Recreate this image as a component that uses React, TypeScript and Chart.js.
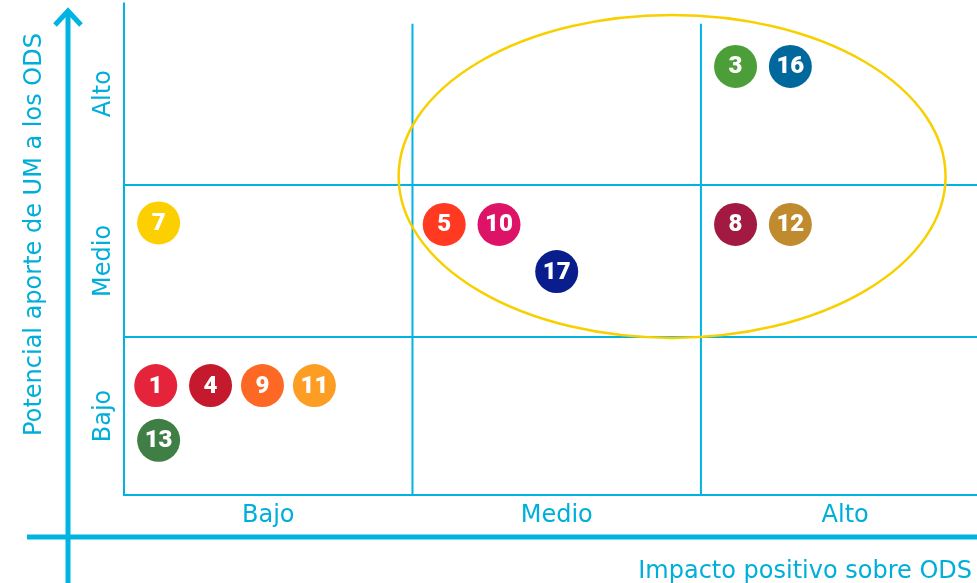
import React, { useEffect, useRef } from "react";
import { Chart, registerables } from "chart.js";

Chart.register(...registerables);

// SDG numbers shown in each bubble
const sdgLabels = ["1", "4", "9", "11", "13", "7", "5", "10", "17", "3", "16", "8", "12"];
// Impacto positivo sobre ODS (0-1 Bajo, 1-2 Medio, 2-3 Alto)
const impactValues = [0.11, 0.3, 0.48, 0.66, 0.12, 0.12, 1.11, 1.3, 1.5, 2.12, 2.31, 2.12, 2.31];
// Potencial aporte de UM a los ODS (0-1 Bajo, 1-2 Medio, 2-3 Alto)
const potentialValues = [0.68, 0.68, 0.68, 0.68, 0.32, 1.75, 1.74, 1.74, 1.43, 2.78, 2.78, 1.74, 1.74];
const sdgColors = [
  "#E5243B", "#C5192D", "#FD6925", "#FD9D24", "#3F7E44", "#FCD000",
  "#FF3A21", "#DD1367", "#0A1D8C", "#4C9F38", "#00689D", "#A21942", "#BF8B2E",
];
const xLevelLabels = ["Bajo", "Medio", "Alto"];
const yLevelLabels = ["Bajo", "Medio", "Alto"];
const gridBoundaries = [1, 2];
const xAxisTitle = "Impacto positivo sobre ODS";
const yAxisTitle = "Potencial aporte de UM a los ODS";
// highlighted ellipse (center and radii in axis units)
const ellipseCenter = [1.9, 2.056];
const ellipseRadii = [0.948, 1.0625];

const LINE = "#00B4E1";
const TEXT = "#00AEDA";
const FONT = "'DejaVu Sans', sans-serif";
const NUM_FONT = "Roboto, 'Noto Sans', sans-serif";

const matrixPlugin = {
  id: "matrixPlugin",
  beforeDatasetsDraw(chart: any) {
    const { ctx, chartArea, scales } = chart;
    const xs = scales.x;
    const ys = scales.y;
    ctx.save();
    ctx.strokeStyle = LINE;
    ctx.lineWidth = 2;
    // left border and bottom border
    ctx.beginPath();
    ctx.moveTo(xs.getPixelForValue(0), ys.getPixelForValue(3.2));
    ctx.lineTo(xs.getPixelForValue(0), chartArea.bottom);
    ctx.lineTo(chartArea.right, chartArea.bottom);
    ctx.stroke();
    // vertical cell boundaries
    gridBoundaries.forEach((v) => {
      const x = xs.getPixelForValue(v);
      ctx.beginPath();
      ctx.moveTo(x, ys.getPixelForValue(3.06));
      ctx.lineTo(x, chartArea.bottom);
      ctx.stroke();
    });
    // horizontal cell boundaries
    gridBoundaries.forEach((v) => {
      const y = ys.getPixelForValue(v);
      ctx.beginPath();
      ctx.moveTo(chartArea.left, y);
      ctx.lineTo(chartArea.right, y);
      ctx.stroke();
    });
    // ellipse
    const cx = xs.getPixelForValue(ellipseCenter[0]);
    const cy = ys.getPixelForValue(ellipseCenter[1]);
    const rx = Math.abs(xs.getPixelForValue(ellipseCenter[0] + ellipseRadii[0]) - cx);
    const ry = Math.abs(ys.getPixelForValue(ellipseCenter[1] + ellipseRadii[1]) - cy);
    ctx.strokeStyle = "#F8D000";
    ctx.lineWidth = 2.5;
    ctx.beginPath();
    ctx.ellipse(cx, cy, rx, ry, 0, 0, Math.PI * 2);
    ctx.stroke();
    ctx.restore();
  },
  afterDatasetsDraw(chart: any) {
    const { ctx } = chart;
    const meta = chart.getDatasetMeta(0);
    ctx.save();
    ctx.fillStyle = "#FFFFFF";
    ctx.font = `900 24px ${NUM_FONT}`;
    ctx.textAlign = "center";
    ctx.textBaseline = "middle";
    meta.data.forEach((pt: any, i: number) => {
      ctx.fillText(sdgLabels[i], pt.x, pt.y + 1);
    });
    ctx.restore();
  },
  afterDraw(chart: any) {
    const { ctx, chartArea, scales, width, height } = chart;
    const xs = scales.x;
    const ys = scales.y;
    ctx.save();
    ctx.fillStyle = TEXT;
    ctx.font = `24px ${FONT}`;
    ctx.textAlign = "center";
    ctx.textBaseline = "alphabetic";
    // x level labels
    xLevelLabels.forEach((lab, i) => {
      ctx.fillText(lab, xs.getPixelForValue(i + 0.5), chartArea.bottom + 27);
    });
    // y level labels (rotated)
    const yEdges = [ys.getPixelForValue(ys.min), ys.getPixelForValue(1), ys.getPixelForValue(2), ys.getPixelForValue(3.2)];
    yLevelLabels.forEach((lab, i) => {
      const cy = (yEdges[i] + yEdges[i + 1]) / 2;
      ctx.save();
      ctx.translate(chartArea.left - 14.5, cy);
      ctx.rotate(-Math.PI / 2);
      ctx.fillText(lab, 0, 0);
      ctx.restore();
    });
    // axis arrows
    const ax = chartArea.left - 56;
    const ay = chartArea.bottom + 42;
    ctx.strokeStyle = LINE;
    ctx.lineWidth = 5;
    ctx.beginPath();
    ctx.moveTo(ax, height);
    ctx.lineTo(ax, 12);
    ctx.stroke();
    ctx.beginPath();
    ctx.moveTo(ax - 13, 25);
    ctx.lineTo(ax, 11);
    ctx.lineTo(ax + 13, 25);
    ctx.stroke();
    ctx.beginPath();
    ctx.moveTo(ax - 41, ay);
    ctx.lineTo(width, ay);
    ctx.stroke();
    // axis titles
    ctx.textAlign = "right";
    ctx.fillText(xAxisTitle, width - 5, ay + 41);
    ctx.save();
    ctx.translate(41, (chartArea.top + chartArea.bottom) / 2 - 13);
    ctx.rotate(-Math.PI / 2);
    ctx.textAlign = "center";
    ctx.fillText(yAxisTitle, 0, 0);
    ctx.restore();
    ctx.restore();
  },
};

export default function App() {
  const canvasRef = useRef<HTMLCanvasElement | null>(null);

  useEffect(() => {
    document.body.style.margin = "0";
    const canvas = canvasRef.current;
    if (!canvas) return;
    const chart = new Chart(canvas, {
      type: "scatter",
      data: {
        datasets: [
          {
            data: impactValues.map((x, i) => ({ x, y: potentialValues[i] })),
            backgroundColor: sdgColors,
            borderWidth: 0,
            pointRadius: 21.5,
            pointHoverRadius: 21.5,
          },
        ],
      },
      options: {
        animation: false,
        responsive: false,
        events: [],
        layout: { autoPadding: false, padding: { left: 124, right: 0, top: 0, bottom: 88 } },
        plugins: { legend: { display: false }, tooltip: { enabled: false } },
        scales: {
          x: { type: "linear", min: 0, max: 2.957, display: false },
          y: { type: "linear", min: -0.04, max: 3.217, display: false },
        },
      },
      plugins: [matrixPlugin],
    });
    return () => chart.destroy();
  }, []);

  return (
    <div style={{ position: "absolute", left: 0, top: 0, width: 977, height: 583 }}>
      <canvas ref={canvasRef} width={977} height={583} />
    </div>
  );
}
